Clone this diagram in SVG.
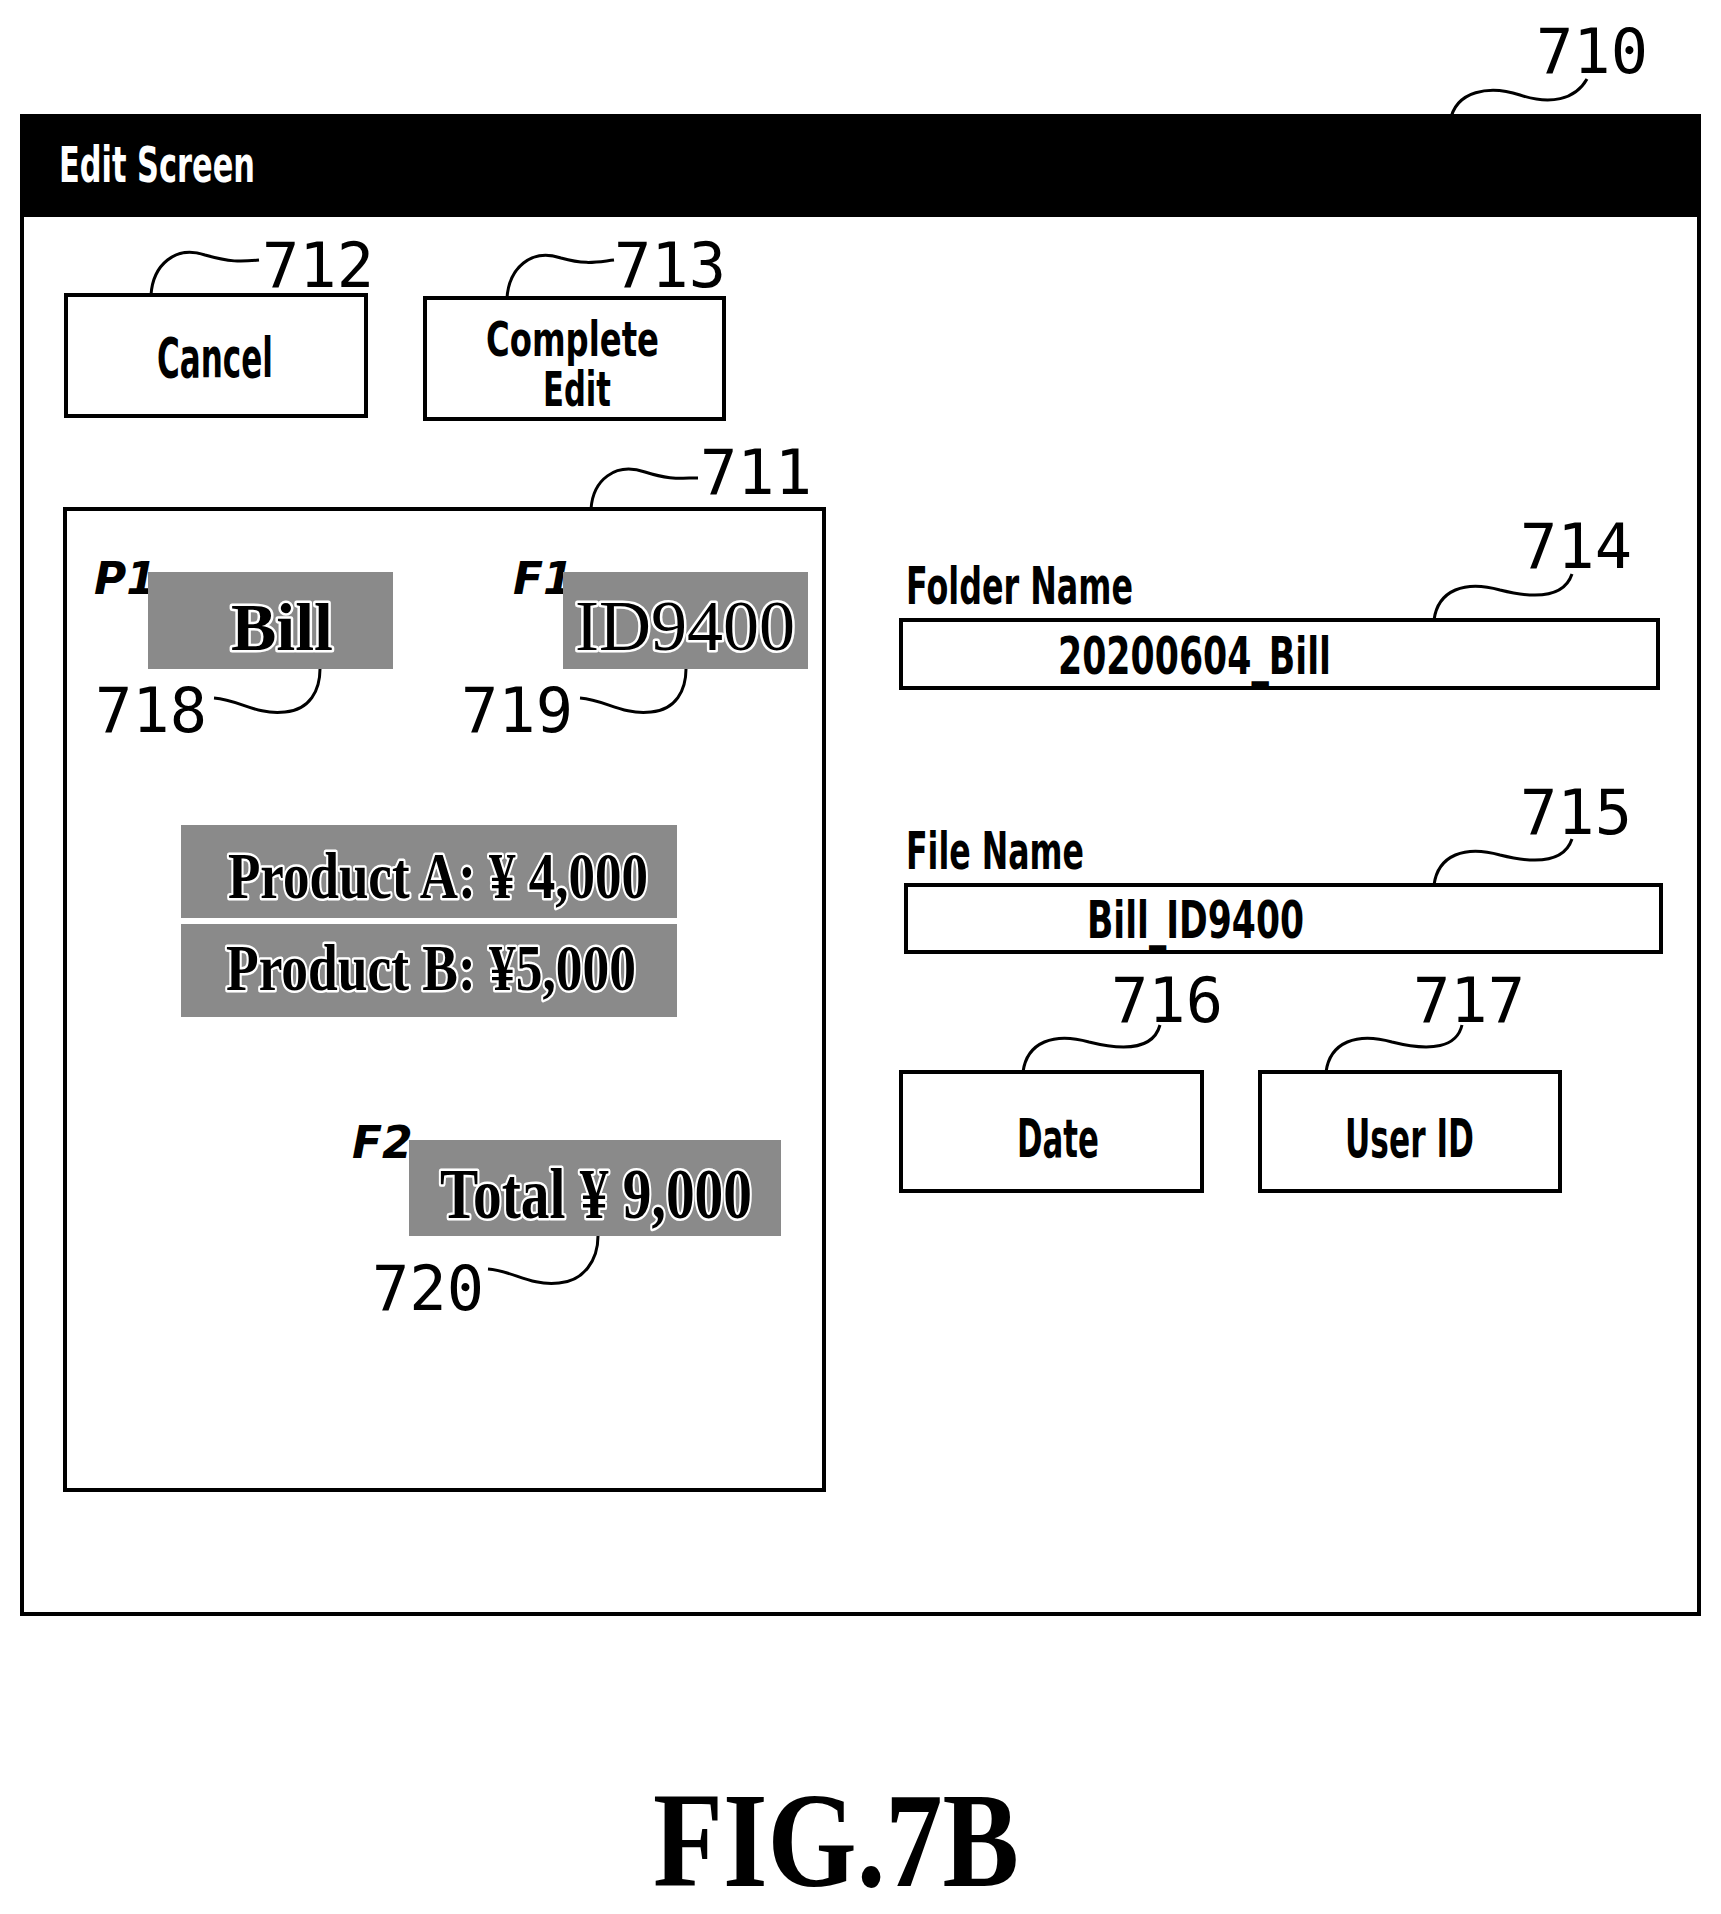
<svg xmlns="http://www.w3.org/2000/svg" width="1721" height="1914" viewBox="0 0 1721 1914">
<style>
.box{fill:#fff;stroke:#000;stroke-width:4}
.gray{fill:#8a8a8a}
.lbl{font-family:"DejaVu Sans","Liberation Sans",sans-serif;font-weight:bold;fill:#000}
.num{font-family:"DejaVu Sans Mono","Liberation Mono",monospace;font-size:62px;fill:#000}
.ser{font-family:"Liberation Serif",serif;font-weight:bold;fill:#000;stroke:#fff;stroke-width:5;paint-order:stroke;stroke-linejoin:round}
.it{font-family:"DejaVu Sans","Liberation Sans",sans-serif;font-style:italic;font-weight:bold;font-size:44px}
.ld{fill:none;stroke:#000;stroke-width:3}
</style>
<rect width="1721" height="1914" fill="#fff"/>
<g id="screen">
<rect x="22" y="116" width="1677" height="1498" class="box" stroke-width="5"/>
<rect x="22" y="116" width="1677" height="101" fill="#000"/>
<text x="59" y="182" class="lbl" font-size="50" style="fill:#fff" textLength="196" lengthAdjust="spacingAndGlyphs">Edit Screen</text>
</g>
<g id="cancel"><rect x="66" y="295" width="300" height="121" class="box"/><text x="157" y="377" class="lbl" font-size="56" textLength="116" lengthAdjust="spacingAndGlyphs">Cancel</text></g>
<g id="complete"><rect x="425" y="298" width="299" height="121" class="box"/><text x="486" y="356" class="lbl" font-size="48" textLength="173" lengthAdjust="spacingAndGlyphs">Complete</text><text x="543" y="406" class="lbl" font-size="48" textLength="68" lengthAdjust="spacingAndGlyphs">Edit</text></g>
<g id="preview">
<rect x="65" y="509" width="759" height="981" class="box"/>
<text x="94" y="594" class="it">P1</text>
<rect x="148" y="572" width="245" height="97" class="gray"/>
<text x="282" y="650" class="ser" font-size="68" text-anchor="middle">Bill</text>
<text x="513" y="594" class="it">F1</text>
<rect x="563" y="572" width="245" height="97" class="gray"/>
<text x="685" y="650" class="ser" font-size="72" style="font-weight:normal" text-anchor="middle">ID9400</text>
<rect x="181" y="825" width="496" height="93" class="gray"/>
<text x="438" y="898" class="ser" font-size="66" text-anchor="middle" textLength="420" lengthAdjust="spacingAndGlyphs">Product A: ¥ 4,000</text>
<rect x="181" y="924" width="496" height="93" class="gray"/>
<text x="431" y="990" class="ser" font-size="66" text-anchor="middle" textLength="410" lengthAdjust="spacingAndGlyphs">Product  B: ¥5,000</text>
<text x="352" y="1158" class="it">F2</text>
<rect x="409" y="1140" width="372" height="96" class="gray"/>
<text x="596" y="1218" class="ser" font-size="72" text-anchor="middle" textLength="312" lengthAdjust="spacingAndGlyphs">Total ¥ 9,000</text>
</g>
<g id="folder"><text x="906" y="604" class="lbl" font-size="52" textLength="227" lengthAdjust="spacingAndGlyphs">Folder Name</text><rect x="901" y="620" width="757" height="68" class="box"/><text x="1058" y="674" class="lbl" font-size="52" textLength="273" lengthAdjust="spacingAndGlyphs">20200604_Bill</text></g>
<g id="file"><text x="906" y="869" class="lbl" font-size="52" textLength="178" lengthAdjust="spacingAndGlyphs">File Name</text><rect x="906" y="885" width="755" height="67" class="box"/><text x="1087" y="938" class="lbl" font-size="52" textLength="217" lengthAdjust="spacingAndGlyphs">Bill_ID9400</text></g>
<g id="date"><rect x="901" y="1072" width="301" height="119" class="box"/><text x="1017" y="1157" class="lbl" font-size="54" textLength="82" lengthAdjust="spacingAndGlyphs">Date</text></g>
<g id="userid"><rect x="1260" y="1072" width="300" height="119" class="box"/><text x="1345" y="1157" class="lbl" font-size="54" textLength="129" lengthAdjust="spacingAndGlyphs">User ID</text></g>
<g id="connectors">
<path class="ld" d="M1450 122 C1455 90 1490 85 1520 95 C1550 105 1575 100 1587 79"/>
<path class="ld" d="M151 295 C153 265 175 245 205 255 C230 262 240 262 259 260"/>
<path class="ld" d="M507 298 C509 268 531 248 561 258 C586 265 596 262 614 260"/>
<path class="ld" d="M591 509 C593 480 615 462 645 472 C670 480 680 478 698 478"/>
<path class="ld" d="M214 698 C240 700 255 715 285 712 C310 710 320 690 320 669"/>
<path class="ld" d="M580 698 C606 700 621 715 651 712 C676 710 686 690 686 669"/>
<path class="ld" d="M488 1269 C514 1271 529 1286 559 1283 C584 1281 598 1260 598 1236"/>
<path class="ld" d="M1434 620 C1438 590 1465 580 1500 590 C1540 600 1565 595 1572 574"/>
<path class="ld" d="M1434 885 C1438 855 1465 845 1500 855 C1540 865 1565 860 1572 839"/>
<path class="ld" d="M1023 1072 C1027 1042 1054 1032 1089 1042 C1129 1052 1154 1047 1160 1025"/>
<path class="ld" d="M1326 1072 C1330 1042 1357 1032 1392 1042 C1432 1052 1457 1047 1462 1025"/>
</g>
<g id="refs">
<text x="1536" y="73" class="num">710</text>
<text x="262" y="287" class="num">712</text>
<text x="614" y="287" class="num">713</text>
<text x="700" y="494" class="num">711</text>
<text x="95" y="732" class="num">718</text>
<text x="461" y="732" class="num">719</text>
<text x="372" y="1310" class="num">720</text>
<text x="1520" y="568" class="num">714</text>
<text x="1520" y="834" class="num">715</text>
<text x="1111" y="1022" class="num">716</text>
<text x="1413" y="1022" class="num">717</text>
</g>
<text x="836" y="1886" font-family="Liberation Serif,serif" font-weight="bold" font-size="136" text-anchor="middle" textLength="366" lengthAdjust="spacingAndGlyphs">FIG.7B</text>
</svg>
